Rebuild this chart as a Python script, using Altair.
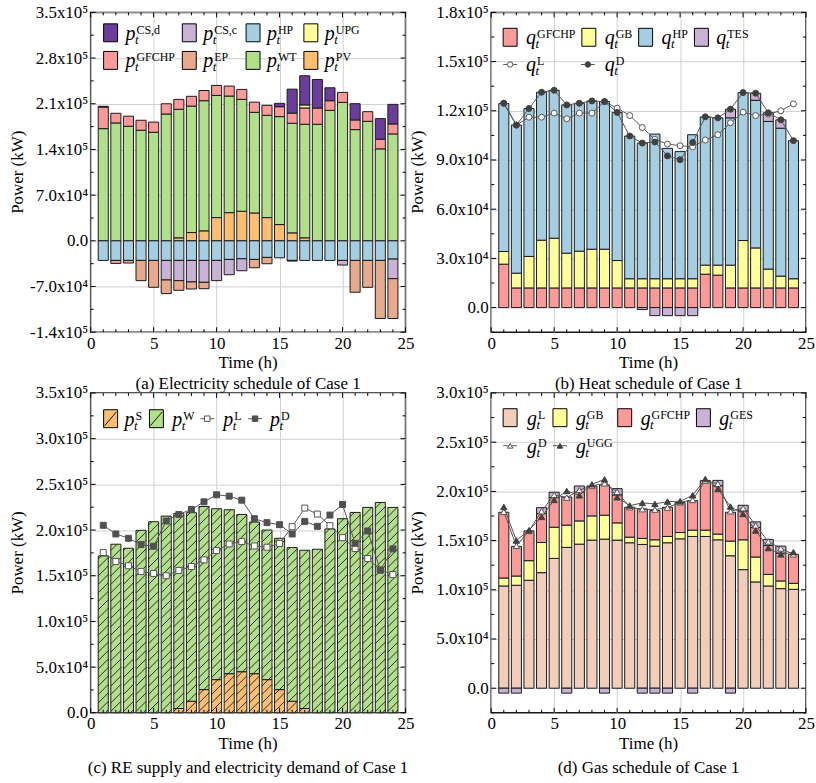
import altair as alt
import pandas as pd

hours = list(range(1, 25))

# ---------------- (a) Electricity schedule (kW) ----------------
a_pv = [0, 0, 0, 0, 0, 0, 4600, 12700, 15300, 35600, 43200, 45300, 42700, 35600, 24900, 12200, 4600, 0, 0, 0, 0, 0, 0, 0]
a_wt = [171900, 180600, 175500, 169400, 166300, 194300, 196900, 193800, 199400, 187200, 178600, 171400,
        154200, 156700, 165400, 167900, 174000, 178600, 199900, 212100, 170400, 183100, 140900, 163800]
a_gfchp = [33000, 14800, 15500, 15300, 15600, 15700, 15200, 14900, 15600, 15300, 15300, 15300,
           15600, 15300, 15200, 15600, 25000, 24900, 14800, 15300, 14800, 14800, 14800, 15300]
a_upg = [0] * 16 + [4600] + [0] * 7
a_csd = [1200, 0, 0, 0, 0, 0, 0, 0, 0, 0, 0, 0, 0, 0, 5100, 36700, 44700, 43700, 19800, 0, 24900, 0, 31500, 30000]
a_hp = [-30000] * 10 + [-28500, -27500, -28500, -25400, -26000, -30000, -30000, -30000, -30000, -30000,
                        -30000, -30000, -30000, -28000]
a_csc = [0, 0, 0, 0, 0, -30000, -31000, -33000, -33600, -31000, -23400, -18300, 0, 0, 0, 0, 0, 0, 0, -7100, 0, 0, 0, -30000]
a_ep = [0, -4600, -4000, -31000, -41200, -20900, -14800, -10800, -9700, 0, 0, 0, -12700, -9700, 0, -1000,
        0, 0, 0, 0, -48800, -41200, -89000, -61000]

# ---------------- (b) Heat schedule (kW) ----------------
b_gfchp = [26500] + [12000] * 15 + [20400, 19800] + [12000] * 6
b_gb = [7700, 9000, 19200, 29100, 30300, 21200, 22400, 23600, 23600, 16700, 5600, 5600,
        5600, 5600, 5600, 5600, 5500, 6100, 13900, 28900, 24400, 11500, 7200, 5600]
b_hp = [90200, 90300, 90200, 90200, 90200, 90400, 90200, 90400, 90000, 90300, 87000, 82700,
        88200, 79500, 77500, 87800, 90400, 89800, 89800, 90200, 90000, 90000, 90200, 84200]
b_tes = [0] * 11 + [-1200, -4900, -4900, -4900, -4900, 0, 0, 5300, 0, 4300, 5300, 5100, 0]
b_ql = [124600, 111300, 116100, 116100, 118600, 115100, 118600, 118600, 125600, 121600, 117100, 109800,
        102600, 99700, 98700, 98100, 102200, 105400, 112700, 119200, 117100, 118000, 120000, 124200]
b_qd = [124600, 111300, 121400, 131300, 132500, 123600, 124600, 126000, 125600, 119000, 104600, 100300,
        101000, 92500, 90200, 100700, 116300, 115700, 121000, 131100, 130700, 118800, 114500, 101800]

# ---------------- (c) RE supply and electricity demand (kW) ----------------
c_s = [0, 0, 0, 0, 0, 0, 4700, 12700, 25400, 36300, 42800, 45000, 42800, 36300, 25400, 12700, 4700, 0, 0, 0, 0, 0, 0, 0]
c_w = [171700, 184500, 180100, 199700, 209100, 215300, 213500, 206300, 200400, 187000, 179400, 172100,
       166000, 163700, 165600, 168100, 173200, 179000, 201200, 212400, 219300, 224800, 230200, 224800]
c_pl = [175400, 165600, 160900, 154700, 152500, 150000, 155800, 160100, 167400, 177600, 184800, 187400,
        182600, 181200, 185200, 203700, 224000, 217500, 204800, 191700, 179700, 168800, 156500, 151400]
c_pd = [205200, 195700, 191000, 184100, 182300, 209900, 217100, 222600, 230900, 238600, 237100, 232700,
        212400, 208100, 205900, 195700, 209500, 204100, 216400, 228000, 185500, 199000, 156100, 179400]

# ---------------- (d) Gas schedule (kW) ----------------
d_l = [103900, 104600, 109700, 117400, 131900, 143100, 146400, 150500, 151500, 150500, 147800, 146100,
       144400, 147800, 151800, 154200, 154200, 150800, 134600, 120500, 108000, 103900, 101200, 100500]
d_gb = [8100, 9400, 19900, 30700, 31700, 22600, 23600, 24600, 24300, 17500, 5700, 6100,
        6400, 6400, 6400, 6400, 6400, 5800, 14900, 30300, 25300, 11800, 7800, 6100]
d_gfchp = [66800, 30100, 30300, 29400, 30100, 28600, 29100, 30400, 30700, 28400, 30400, 30000,
           29700, 29700, 30400, 30000, 50300, 49200, 29300, 29400, 30000, 29400, 28300, 29400]
d_ges = [-5000, -5000, 0, 6000, 5400, -5000, 6400, 0, -5000, 6400, 0, -5000,
         -5000, -5000, 0, -5000, 0, 5400, -5000, 5700, 5700, 6100, 7100, 0]
d_gd = [179200, 144700, 159900, 179800, 196400, 193700, 201400, 205500, 208200, 199700, 183900, 181900,
        181500, 183500, 188900, 191300, 210900, 207800, 179800, 182900, 165300, 149100, 142000, 136000]
d_ugg = [184200, 150100, 160600, 174100, 191300, 200400, 196000, 207200, 212200, 194000, 185600, 188300,
         187300, 189600, 190000, 196000, 212600, 202400, 184600, 177100, 160300, 142400, 136000, 138300]

# ---------------- styling ----------------
W, H = 316, 321
F = "Liberation Serif"
BW = 0.8
GRID = "#d0d0d0"
LINEC = "#555555"
ONE = alt.Data(values=[{"k": 0}])

LEXPR = ("datum.value == 0 ? '0.0' : replace(format(datum.value / pow(10, floor(log(abs(datum.value)) / LN10 + 1e-6)), '.1f'), '\u2212', '-')"
         " + 'x10' + (floor(log(abs(datum.value)) / LN10 + 1e-6) == 5 ? '\u2075' : '\u2074')")

XT = [0, 5, 10, 15, 20, 25]
XM = [i for i in range(1, 25) if i % 5]


def xenc(field):
    return alt.X(field, type="quantitative", scale=alt.Scale(domain=[0, 25], nice=False, zero=False),
                 axis=alt.Axis(values=XT, title=None, grid=True, labelFlush=False, labelOverlap=False,
                               labelPadding=3, format="d", labelFont=F))


def yenc(field, dom, ticks):
    return alt.Y(field, type="quantitative", scale=alt.Scale(domain=dom, nice=False, zero=False),
                 axis=alt.Axis(values=ticks, title=None, grid=True, labelExpr=LEXPR, labelFlush=False,
                               labelOverlap=False, labelPadding=3, labelFont=F))


def stack_df(series):
    rows = []
    for i, h in enumerate(hours):
        pos, neg = 0.0, 0.0
        for name, vals in series:
            v = vals[i]
            if v == 0:
                continue
            if v > 0:
                y0, y1 = pos, pos + v
                pos = y1
            else:
                y0, y1 = neg, neg + v
                neg = y1
            rows.append(dict(hour=h, x0=h - BW / 2, x1=h + BW / 2, y0=y0, y1=y1, s=name))
    return pd.DataFrame(rows)


def txt(s, x, y, size, italic=False, align="left", baseline="alphabetic", angle=0):
    return alt.Chart(ONE).mark_text(text=s, font=F, fontSize=size, fontStyle="italic" if italic else "normal",
                                    fontWeight="normal", align=align, baseline=baseline, angle=angle,
                                    color="black").encode(x=alt.value(x), y=alt.value(y))


def axis_titles():
    return [txt("Time (h)", W / 2, H + 31, 17, align="center", baseline="middle"),
            txt("Power (kW)", -73, H / 2, 17, align="center", baseline="middle", angle=270)]


def sym(x, yc, main, sup):
    return [txt(main, x, yc + 7, 20, True), txt("t", x + 9.5, yc + 11, 13, True), txt(sup, x + 11, yc + 1, 12)]


def swatch(x, yc, color, hatch=False):
    out = [alt.Chart(ONE).mark_rect(fill=color, stroke="black", strokeWidth=1).encode(
        x=alt.value(x), x2=alt.value(x + 14), y=alt.value(yc - 9), y2=alt.value(yc + 9))]
    if hatch:
        out.append(alt.Chart(ONE).mark_rule(color="black", strokeWidth=0.9).encode(
            x=alt.value(x + 1), x2=alt.value(x + 13), y=alt.value(yc + 7), y2=alt.value(yc - 7)))
    return out


def mleg(x, yc, shape, fill, stroke):
    return [alt.Chart(ONE).mark_rule(color=LINEC, strokeWidth=1).encode(
                x=alt.value(x), x2=alt.value(x + 14), y=alt.value(yc)),
            alt.Chart(ONE).mark_point(shape=shape, filled=True, fill=fill, stroke=stroke, strokeWidth=1,
                                      size=30, opacity=1).encode(x=alt.value(x + 7), y=alt.value(yc))]


def tick_layers(dom, yt, ym):
    layers = []
    ymaj = pd.DataFrame({"v": yt})
    ymin = pd.DataFrame({"v": ym})
    xmaj = pd.DataFrame({"v": XT})
    xmin = pd.DataFrame({"v": XM})
    for df, L in ((ymaj, 5), (ymin, 3)):
        layers.append(alt.Chart(df).mark_rule(color="black", strokeWidth=1).encode(
            y=yenc("v", dom, yt), x=alt.value(0), x2=alt.value(L)))
        layers.append(alt.Chart(df).mark_rule(color="black", strokeWidth=1).encode(
            y=yenc("v", dom, yt), x=alt.value(W - L), x2=alt.value(W)))
    for df, L in ((xmaj, 5), (xmin, 3)):
        layers.append(alt.Chart(df).mark_rule(color="black", strokeWidth=1).encode(
            x=xenc("v"), y=alt.value(H - L), y2=alt.value(H)))
        layers.append(alt.Chart(df).mark_rule(color="black", strokeWidth=1).encode(
            x=xenc("v"), y=alt.value(0), y2=alt.value(L)))
    return layers


def bars(series, colors, dom, yt, key):
    df = stack_df(series).rename(columns={"s": key})
    names = [s[0] for s in series]
    return alt.Chart(df).mark_rect(stroke="#1a1a1a", strokeWidth=1).encode(
        x=xenc("x0"), x2="x1", y=yenc("y0", dom, yt), y2="y1",
        color=alt.Color(key + ":N", scale=alt.Scale(domain=names, range=colors), legend=None))


def line_pts(vals, dom, yt, shape, fill, stroke, size):
    df = pd.DataFrame({"hour": hours, "v": vals})
    ln = alt.Chart(df).mark_line(color=LINEC, strokeWidth=1).encode(x=xenc("hour"), y=yenc("v", dom, yt))
    pt = alt.Chart(df).mark_point(shape=shape, filled=True, fill=fill, stroke=stroke, strokeWidth=1,
                                  size=size, opacity=1).encode(x=xenc("hour"), y=yenc("v", dom, yt))
    return ln, pt


def mid(t):
    return [(t[i] + t[i + 1]) / 2 for i in range(len(t) - 1)]


# ================= Panel (a) =================
dom_a = [-140000, 350000]
yt_a = [-140000, -70000, 0, 70000, 140000, 210000, 280000, 350000]
ser_a = [("PV", a_pv), ("WT", a_wt), ("GFCHP", a_gfchp), ("UPG", a_upg), ("CSd", a_csd),
         ("HP", a_hp), ("CSc", a_csc), ("EP", a_ep)]
col_a = ["#fdbf6f", "#b2df8a", "#fb9a99", "#ffff99", "#6a3d9a", "#a6cee3", "#cab2d6", "#e8aa8c"]
cmap_a = dict(zip([s[0] for s in ser_a], col_a))
leg_a = []
for (nm, sup, sx, lx, yc) in [("CSd", "CS,d", 13, 35, 20.5), ("CSc", "CS,c", 92, 113, 20.5),
                              ("HP", "HP", 156, 177, 20.5), ("UPG", "UPG", 214, 235, 20.5),
                              ("GFCHP", "GFCHP", 13, 35, 48.2), ("EP", "EP", 92, 113, 48.2),
                              ("WT", "WT", 156, 177, 48.2), ("PV", "PV", 214, 235, 48.2)]:
    leg_a += swatch(sx, yc, cmap_a[nm]) + sym(lx, yc, "p", sup)

pa = alt.layer(
    bars(ser_a, col_a, dom_a, yt_a, "sa"),
    *tick_layers(dom_a, yt_a, mid(yt_a)),
    *leg_a,
    *axis_titles(),
    txt("(a) Electricity schedule of Case 1", W / 2, H + 52, 17, align="center", baseline="middle"),
).properties(width=W, height=H)

# ================= Panel (b) =================
dom_b = [-15000, 180000]
yt_b = [0, 30000, 60000, 90000, 120000, 150000, 180000]
ser_b = [("GFCHP", b_gfchp), ("GB", b_gb), ("HP", b_hp), ("TES", b_tes)]
col_b = ["#fb9a99", "#ffff99", "#a6cee3", "#cab2d6"]
ln_bl, pt_bl = line_pts(b_ql, dom_b, yt_b, "circle", "white", LINEC, 36)
ln_bd, pt_bd = line_pts(b_qd, dom_b, yt_b, "circle", "#404040", "#404040", 36)
leg_b = []
for (c, sup, sx, lx) in [(col_b[0], "GFCHP", 12, 35), (col_b[1], "GB", 91, 114), (col_b[2], "HP", 148, 171),
                         (col_b[3], "TES", 204, 226)]:
    leg_b += swatch(sx, 25, c) + sym(lx, 25, "q", sup)
leg_b += mleg(12, 52.3, "circle", "white", LINEC) + sym(35, 52.3, "q", "L")
leg_b += mleg(90, 52.3, "circle", "#404040", "#404040") + sym(114, 52.3, "q", "D")

pb = alt.layer(
    bars(ser_b, col_b, dom_b, yt_b, "sb"),
    ln_bl, ln_bd, pt_bl, pt_bd,
    *tick_layers(dom_b, yt_b, mid([-30000] + yt_b)[1:] + [-15000]),
    *leg_b,
    *axis_titles(),
    txt("(b) Heat schedule of Case 1", W / 2, H + 52, 17, align="center", baseline="middle"),
).properties(width=W, height=H)

# ================= Panel (c) =================
dom_c = [0, 350000]
yt_c = [0, 50000, 100000, 150000, 200000, 250000, 300000, 350000]
ser_c = [("S", c_s), ("W", c_w)]
col_c = ["#fdbf6f", "#b2df8a"]

# diagonal hatch segments derived from the bar totals
pxx = W / 25.0
pxy = H / 350000.0
hrows = []
for h, s, w in zip(hours, c_s, c_w):
    tot = s + w
    xl = (h - BW / 2) * pxx
    bw = BW * pxx
    top = tot * pxy
    c = -bw + 3
    while c < top:
        t0 = max(0.0, -c)
        t1 = min(bw, top - c)
        if t1 > t0 + 0.3:
            hrows.append(dict(x=(xl + t0) / pxx, y=(c + t0) / pxy, x2=(xl + t1) / pxx, y2=(c + t1) / pxy))
        c += 8.5
hatch = alt.Chart(pd.DataFrame(hrows)).mark_rule(color="#1a1a1a", strokeWidth=0.9).encode(
    x=xenc("x"), y=yenc("y", dom_c, yt_c), x2="x2", y2="y2")

ln_cl, pt_cl = line_pts(c_pl, dom_c, yt_c, "square", "white", LINEC, 36)
ln_cd, pt_cd = line_pts(c_pd, dom_c, yt_c, "square", "#505050", "#505050", 36)
leg_c = swatch(13, 25.8, col_c[0], True) + sym(34, 25.8, "p", "S")
leg_c += swatch(59, 25.8, col_c[1], True) + sym(82, 25.8, "p", "W")
leg_c += mleg(110, 25.8, "square", "white", LINEC) + sym(133, 25.8, "p", "L")
leg_c += mleg(158, 25.8, "square", "#505050", "#505050") + sym(180, 25.8, "p", "D")

pc = alt.layer(
    bars(ser_c, col_c, dom_c, yt_c, "sc"),
    hatch,
    ln_cl, ln_cd, pt_cl, pt_cd,
    *tick_layers(dom_c, yt_c, mid(yt_c)),
    *leg_c,
    *axis_titles(),
    txt("(c) RE supply and electricity demand of Case 1", W / 2, H + 55, 17, align="center", baseline="middle"),
).properties(width=W, height=H)

# ================= Panel (d) =================
dom_d = [-25000, 300000]
yt_d = [0, 50000, 100000, 150000, 200000, 250000, 300000]
ser_d = [("L", d_l), ("GB", d_gb), ("GFCHP", d_gfchp), ("GES", d_ges)]
col_d = ["#f2ceba", "#ffff99", "#fb9a99", "#cab2d6"]
ln_dd, pt_dd = line_pts(d_gd, dom_d, yt_d, "triangle-up", "white", LINEC, 40)
ln_du, pt_du = line_pts(d_ugg, dom_d, yt_d, "triangle-up", "#404040", "#404040", 40)
leg_d = []
for (c, sup, sx, lx) in [(col_d[0], "L", 12, 36), (col_d[1], "GB", 62, 85), (col_d[2], "GFCHP", 127, 150),
                         (col_d[3], "GES", 206, 229)]:
    leg_d += swatch(sx, 24.8, c) + sym(lx, 24.8, "g", sup)
leg_d += mleg(12, 53, "triangle-up", "white", LINEC) + sym(36, 53, "g", "D")
leg_d += mleg(62, 53, "triangle-up", "#404040", "#404040") + sym(85, 53, "g", "UGG")

pd_ = alt.layer(
    bars(ser_d, col_d, dom_d, yt_d, "sd"),
    ln_dd, ln_du, pt_dd, pt_du,
    *tick_layers(dom_d, yt_d, mid(yt_d) + [-25000]),
    *leg_d,
    *axis_titles(),
    txt("(d) Gas schedule of Case 1", W / 2, H + 55, 17, align="center", baseline="middle"),
).properties(width=W, height=H)

chart = alt.concat(pa, pb, pc, pd_, columns=2, spacing={"row": 61, "column": 86}, bounds="flush").properties(
    padding={"left": 8, "top": 1, "right": 0, "bottom": 0}, background="white"
).resolve_scale(color="independent", x="independent", y="independent").configure_view(
    stroke="#1a1a1a", strokeWidth=1.5).configure_axis(
    labelFont=F, labelFontSize=17, labelColor="black", domain=False, ticks=False, tickSize=0,
    gridColor=GRID, gridWidth=1)

chart.save("out.html", embed_options={"renderer": "svg", "actions": False})
